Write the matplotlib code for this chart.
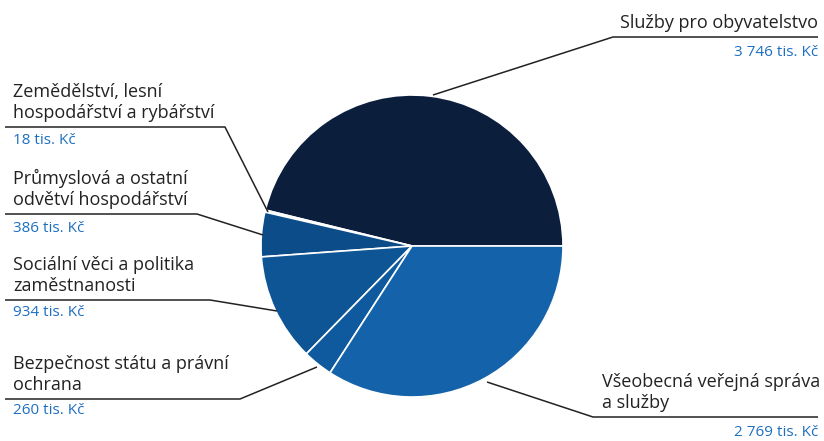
import matplotlib.pyplot as plt

# data
labels = ["Služby pro obyvatelstvo",
          "Zemědělství, lesní\nhospodářství a rybářství",
          "Průmyslová a ostatní\nodvětví hospodářství",
          "Sociální věci a politika\nzaměstnanosti",
          "Bezpečnost státu a právní\nochrana",
          "Všeobecná veřejná správa\na služby"]
values = [3746, 18, 386, 934, 260, 2769]
value_labels = ["3 746 tis. Kč", "18 tis. Kč", "386 tis. Kč",
                "934 tis. Kč", "260 tis. Kč", "2 769 tis. Kč"]
colors = ["#0b1f3d", "#dfe8f2", "#0c4c88", "#0e5596", "#0f5a9e", "#1463aa"]

W, H = 824, 441
fig = plt.figure(figsize=(W / 100, H / 100), dpi=100)
ax = fig.add_axes([0, 0, 1, 1])

plt.rcParams['font.family'] = ['Open Sans', 'DejaVu Sans']


def py(y):
    # pixel y (from top) to data y
    return H - y


cx, cy, r = 412, py(246), 151
ax.pie(values, colors=colors, startangle=0, counterclock=True,
       center=(cx, cy), radius=r, frame=True,
       wedgeprops=dict(edgecolor="white", linewidth=1.2))
ax.set_xlim(0, W)
ax.set_ylim(0, H)
ax.set_aspect("equal")
ax.axis("off")

txt_col = "#222222"
val_col = "#1e6fc0"
fs = 13
vfs = 11

# leader lines (pixel coords)
leaders = [
    [(433, 95), (613, 37), (818, 37)],
    [(268, 212), (225, 127), (5, 127)],
    [(263, 235), (197, 214), (5, 214)],
    [(277, 311), (210, 300), (5, 300)],
    [(317, 367), (240, 399), (5, 399)],
    [(487, 382), (593, 417), (818, 417)],
]
for pts in leaders:
    ax.plot([p[0] for p in pts], [py(p[1]) for p in pts],
            color=txt_col, lw=1.1, solid_capstyle="butt")

# right labels
ax.text(818, py(32), labels[0], ha="right", va="bottom", fontsize=fs, color=txt_col)
ax.text(818, py(52), value_labels[0], ha="right", va="center", fontsize=vfs, color=val_col)

ax.text(602, py(412), labels[5], ha="left", va="bottom", fontsize=fs, color=txt_col,
        linespacing=1.2)
ax.text(818, py(432), value_labels[5], ha="right", va="center", fontsize=vfs, color=val_col)

# left labels: (index, bottom of text block, value y)
left = [(1, 122, 141), (2, 209, 228), (3, 295, 313), (4, 394, 411)]
for i, ybot, yval in left:
    ax.text(13, py(ybot), labels[i], ha="left", va="bottom", fontsize=fs,
            color=txt_col, linespacing=1.2)
    ax.text(13, py(yval), value_labels[i], ha="left", va="center",
            fontsize=vfs, color=val_col)

fig.savefig("out.png", dpi=100, facecolor="white")
